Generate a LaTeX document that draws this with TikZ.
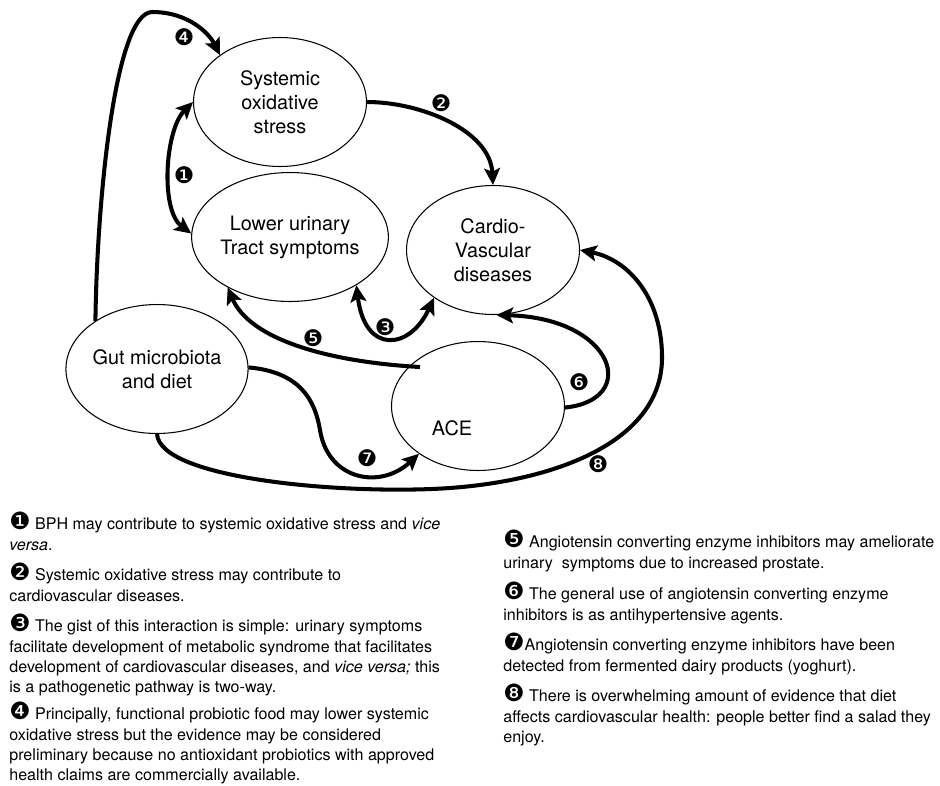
\documentclass[tikz,border=0pt]{standalone}
\usepackage{fontspec}
\setmainfont{TeX Gyre Heros}
\newfontfamily\dingfont{DejaVu Sans}
\usetikzlibrary{shapes.geometric,arrows.meta}
\newcommand{\nodefont}{\fontsize{11.3}{13.6}\selectfont}
\newcommand{\legfont}{\fontsize{9.15}{11.5}\selectfont}
\newcommand{\cnum}[1]{{\dingfont\fontsize{13.5}{13.5}\selectfont #1}}
\begin{document}
\begin{tikzpicture}[x=0.02cm,y=-0.02cm,
    >={Stealth[length=9.5pt,width=9pt,inset=2pt]},
    bubble/.style={ellipse,draw,line width=0.6pt,minimum width=3.46cm,minimum height=2.58cm,inner sep=0pt,align=center,font=\nodefont},
    link/.style={line width=2.3pt},
    num/.style={font=\dingfont\fontsize{13}{13}\selectfont,inner sep=0pt},
    legend/.style={anchor=north west,inner sep=0pt,align=left,font=\legfont}]
    \useasboundingbox (0,0) rectangle (940,785);
    \node[bubble] (sos) at (280,102) {Systemic\\oxidative\\stress};
    \node[bubble] (luts) at (290,237) {Lower urinary\\Tract symptoms};
    \node[bubble] (cvd) at (493,250) {Cardio-\\Vascular\\diseases};
    \node[bubble] (gut) at (157,369) {Gut microbiota\\and diet};
    \node[bubble] (ace) at (478,406) {};
    \node[font=\nodefont] (acetext) at (452,428) {ACE};
    \coordinate (stub) at (420,367);
    \draw[link,<->] (sos.180) .. controls (165,130) and (160,210) .. (luts.178);
    \draw[link,->] (sos.0) .. controls (420,102) and (490,130) .. (cvd.90);
    \draw[link,<->] (luts.-36) .. controls (365,355) and (410,350) .. (cvd.-141);
    \draw[link,->] (gut.142) .. controls (97,200) and (115,13) .. (152,12) .. controls (190,12) and (210,35) .. (sos.142);
    \draw[link,->] (stub) .. controls (330,362) and (250,340) .. (luts.-141);
    \draw[link,->] (ace.-1) .. controls (640,400) and (615,318) .. (cvd.-87);
    \draw[link,->] (gut.1) .. controls (300,372) and (315,400) .. (320,430) .. controls (328,480) and (380,490) .. (ace.-141);
    \draw[link,->] (gut.-90) .. controls (160,480) and (350,495) .. (450,488) .. controls (560,480) and (660,440) .. (662,360) .. controls (663,300) and (630,260) .. (cvd.0);
    \node[num] (n1) at (184,175) {❶};
    \node[num] (n2) at (441,103) {❷};
    \node[num] (n3) at (385,327) {❸};
    \node[num] (n4) at (184,37) {❹};
    \node[num] (n5) at (313,338) {❺};
    \node[num] (n6) at (579,382) {❻};
    \node[num] (n7) at (367,458) {❼};
    \node[num] (n8) at (598,464) {❽};
    \node[legend] (leg1) at (9,512) {\cnum{❶}\ BPH may contribute to systemic oxidative stress and \textit{vice}\\\textit{versa}.};
    \node[legend] (leg2) at (9,563) {\cnum{❷}\ Systemic oxidative stress may contribute to\\cardiovascular diseases.};
    \node[legend] (leg3) at (9,614) {\cnum{❸}\ The gist of this interaction is simple: urinary symptoms\\facilitate development of metabolic syndrome that facilitates\\development of cardiovascular diseases, and \textit{vice versa;} this\\is a pathogenetic pathway is two-way.};
    \node[legend] (leg4) at (9,702) {\cnum{❹}\ Principally, functional probiotic food may lower systemic\\oxidative stress but the evidence may be considered\\preliminary because no antioxidant probiotics with approved\\health claims are commercially available.};
    \node[legend] (leg5) at (503,530) {\cnum{❺}\ Angiotensin converting enzyme inhibitors may ameliorate\\urinary\ \ symptoms due to increased prostate.};
    \node[legend] (leg6) at (503,582) {\cnum{❻}\ The general use of angiotensin converting enzyme\\inhibitors is as antihypertensive agents.};
    \node[legend] (leg7) at (503,633) {\cnum{❼}Angiotensin converting enzyme inhibitors have been\\detected from fermented dairy products (yoghurt).};
    \node[legend] (leg8) at (503,684) {\cnum{❽}\ There is overwhelming amount of evidence that diet\\affects cardiovascular health: people better find a salad they\\enjoy.};
\end{tikzpicture}
\end{document}
